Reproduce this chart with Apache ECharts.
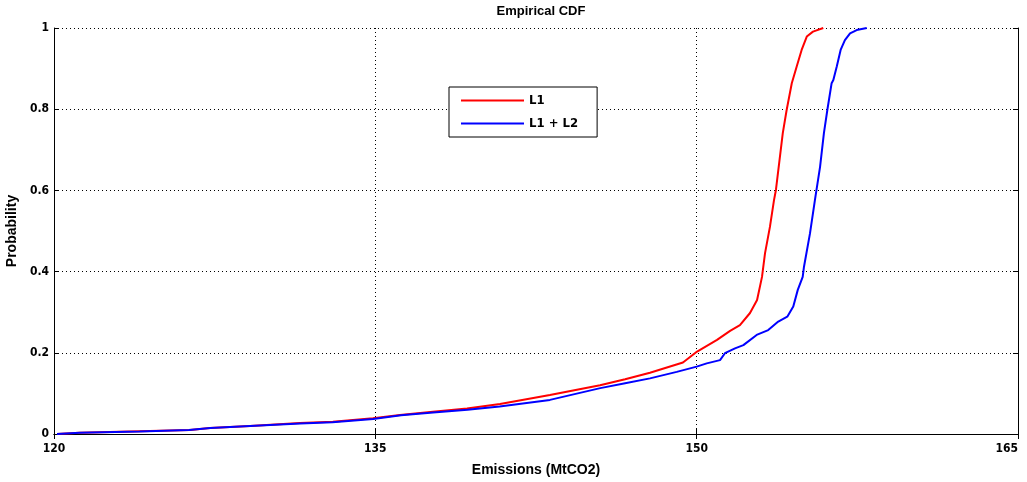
<!DOCTYPE html>
<html>
<head>
<meta charset="utf-8">
<script src="https://cdn.jsdelivr.net/npm/echarts@6/dist/echarts.min.js"></script>
<style>html,body{margin:0;padding:0;background:#fff;}#c{width:1027px;height:482px;}</style>
</head>
<body>
<div id="c"></div>
<script>
var titleText = 'Empirical CDF';
var xName = 'Emissions (MtCO2)';
var yName = 'Probability';
var seriesNames = ['L1', 'L1 + L2'];

var l1X = [120.14,121.2,124.0,126.35,127.28,129.15,131.48,133.02,134.89,136.15,137.69,139.28,140.82,143.15,145.49,146.66,147.82,149.36,150.02,150.95,151.56,152.02,152.49,152.82,153.05,153.19,153.42,153.61,153.70,154.02,154.20,154.44,154.67,154.90,155.14,155.43,155.91];
var l1Y = [0,0.003,0.007,0.010,0.015,0.020,0.027,0.030,0.039,0.047,0.055,0.063,0.074,0.096,0.120,0.135,0.151,0.176,0.203,0.232,0.254,0.268,0.298,0.330,0.387,0.445,0.510,0.576,0.601,0.741,0.798,0.864,0.905,0.946,0.979,0.991,1.0];

var l2X = [120.14,121.2,124.0,126.3,127.3,129.15,131.5,133.0,134.9,136.2,137.7,139.3,140.8,143.15,145.5,146.66,147.82,149.07,150.0,150.47,151.09,151.32,151.79,152.18,152.80,153.34,153.81,154.23,154.51,154.72,154.95,155.01,155.29,155.52,155.76,155.94,156.10,156.30,156.38,156.54,156.72,156.92,157.16,157.47,157.94];
var l2Y = [0,0.003,0.006,0.010,0.015,0.020,0.026,0.029,0.037,0.046,0.053,0.060,0.068,0.084,0.113,0.125,0.137,0.153,0.166,0.174,0.182,0.199,0.211,0.219,0.244,0.256,0.277,0.289,0.314,0.355,0.387,0.412,0.494,0.576,0.658,0.741,0.798,0.864,0.872,0.905,0.946,0.970,0.987,0.995,1.0];

function pairs(xs, ys){ return xs.map(function(x,i){ return [x, ys[i]]; }); }

var narrow = '"DejaVu Sans Condensed", "Liberation Sans Narrow", "Arial Narrow", sans-serif';
var tickFont = {color:'#000', fontFamily:narrow, fontWeight:'bold', fontSize:12};
var chart = echarts.init(document.getElementById('c'));
chart.setOption({
  animation:false,
  backgroundColor:'#fff',
  title:{text:titleText, left:536, top:0, textAlign:'center',
    textStyle:{fontFamily:'Liberation Sans', fontWeight:'bold', fontSize:13, color:'#000'}},
  grid:{left:54, right:9, top:28, bottom:48, containLabel:false, outerBoundsMode:'none'},
  legend:{
    left:449, top:87, orient:'vertical', icon:'rect', itemWidth:63, itemHeight:2, itemGap:10,
    padding:[7,19,7,12], borderColor:'#000', borderWidth:1, backgroundColor:'#fff',
    textStyle:{fontFamily:narrow, fontWeight:'bold', fontSize:13, color:'#000'},
    data:seriesNames
  },
  xAxis:[{
    type:'value', min:120, max:165, interval:15, name:xName, nameLocation:'middle', nameGap:29,
    nameTextStyle:{fontFamily:'Liberation Sans', fontWeight:'bold', fontSize:14, color:'#000'},
    axisLine:{lineStyle:{color:'#000', width:1}},
    axisTick:{inside:true, length:5, lineStyle:{color:'#000'}},
    axisLabel:Object.assign({margin:9, alignMaxLabel:'right'}, tickFont),
    splitLine:{show:true, lineStyle:{color:'#000', type:[1,3], width:1}}
  },{
    type:'value', min:120, max:165, interval:15, position:'top',
    axisLine:{lineStyle:{color:'#000', width:1}},
    axisTick:{inside:true, length:5, lineStyle:{color:'#000'}},
    axisLabel:{show:false}, splitLine:{show:false}
  }],
  yAxis:[{
    type:'value', min:0, max:1, interval:0.2, name:yName, nameLocation:'middle', nameGap:31,
    nameTextStyle:{fontFamily:'Liberation Sans', fontWeight:'bold', fontSize:14, color:'#000'},
    axisLine:{show:true, lineStyle:{color:'#000', width:1}},
    axisTick:{show:true, inside:true, length:5, lineStyle:{color:'#000'}},
    axisLabel:Object.assign({margin:5, formatter:function(v){ return String(+v.toFixed(1)); }}, tickFont),
    splitLine:{show:true, lineStyle:{color:'#000', type:[1,3], width:1}}
  },{
    type:'value', min:0, max:1, interval:0.2, position:'right',
    axisLine:{show:true, lineStyle:{color:'#000', width:1}},
    axisTick:{show:true, inside:true, length:5, lineStyle:{color:'#000'}},
    axisLabel:{show:false}, splitLine:{show:false}
  }],
  series:[{
    name:seriesNames[0], type:'line', showSymbol:false, symbol:'none',
    lineStyle:{color:'#ff0000', width:2}, itemStyle:{color:'#ff0000'},
    data:pairs(l1X, l1Y)
  },{
    name:seriesNames[1], type:'line', showSymbol:false, symbol:'none',
    lineStyle:{color:'#0000ff', width:2}, itemStyle:{color:'#0000ff'},
    data:pairs(l2X, l2Y)
  }]
});
</script>
</body>
</html>
